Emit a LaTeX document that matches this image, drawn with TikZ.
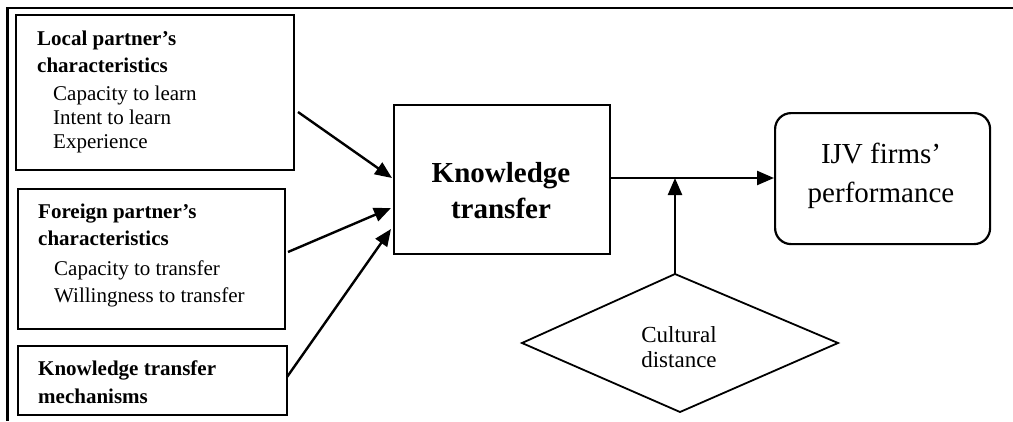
\documentclass[tikz,border=0pt]{standalone}
\usepackage{fontspec}
\setmainfont{Liberation Serif}
\usetikzlibrary{arrows.meta,shapes.geometric}
\begin{document}
\begin{tikzpicture}[x=1pt,y=-1pt,
  box/.style={draw,line width=2.2pt,inner sep=0pt,anchor=north west},
  txt/.style={anchor=base west,inner sep=0pt,font=\fontsize{21}{25}\selectfont},
  btxt/.style={txt,font=\fontsize{21}{25}\selectfont\bfseries},
  conn/.style={line width=2.4pt,-{Triangle[length=17pt,width=14pt]}},
  frame/.style={line width=2.2pt}
]
\useasboundingbox (0,0) rectangle (1013,421);
% outer frame (top and left)
\coordinate (ftr) at (1013,8);
\coordinate (ftl) at (7.5,8);
\coordinate (fbl) at (7.5,421);
\draw[frame] (ftr) -- (ftl) -- (fbl);

% left boxes
\node[box,minimum width=278pt,minimum height=155pt] (local) at (15,14) {};
\node[btxt] (l1) at (37,45) {Local partner’s};
\node[btxt] (l2) at (37,72) {characteristics};
\node[txt] (l3) at (53,100) {Capacity to learn};
\node[txt] (l4) at (53,124) {Intent to learn};
\node[txt] (l5) at (53,148) {Experience};

\node[box,minimum width=267pt,minimum height=140pt] (foreign) at (17,188) {};
\node[btxt] (f1) at (38,218) {Foreign partner’s};
\node[btxt] (f2) at (38,245) {characteristics};
\node[txt] (f3) at (54,275) {Capacity to transfer};
\node[txt] (f4) at (54,302) {Willingness to transfer};

\node[box,minimum width=269pt,minimum height=69pt] (mech) at (17,345) {};
\node[btxt] (m1) at (38,375) {Knowledge transfer};
\node[btxt] (m2) at (38,403) {mechanisms};

% central box
\node[box,minimum width=216pt,minimum height=149pt] (kt) at (393,104) {};
\node[anchor=base,inner sep=0pt,font=\fontsize{29}{35}\selectfont\bfseries] (kt1) at (501,182) {Knowledge};
\node[anchor=base,inner sep=0pt,font=\fontsize{29}{35}\selectfont\bfseries] (kt2) at (501,218) {transfer};

% performance box
\node[box,rounded corners=16pt,minimum width=215pt,minimum height=131pt] (perf) at (774,112) {};
\node[anchor=base,inner sep=0pt,font=\fontsize{29}{35}\selectfont] (p1) at (881,163) {IJV firms’};
\node[anchor=base,inner sep=0pt,font=\fontsize{29}{35}\selectfont] (p2) at (881,202) {performance};

% diamond
\coordinate (dt) at (675,274);
\coordinate (dl) at (522,343);
\coordinate (db) at (680,412);
\coordinate (dr) at (838,343);
\draw[line width=1.8pt] (dt) -- (dr) -- (db) -- (dl) -- cycle;
\node[anchor=base,inner sep=0pt,font=\fontsize{23}{27}\selectfont] (c1) at (679,342) {Cultural};
\node[anchor=base,inner sep=0pt,font=\fontsize{23}{27}\selectfont] (c2) at (679,367) {distance};

% connectors
\coordinate (a1s) at (298,112);
\coordinate (a1e) at (392,178);
\coordinate (a2s) at (288,252);
\coordinate (a2e) at (391,208);
\coordinate (a3s) at (287,377);
\coordinate (a3e) at (391,229);
\draw[conn] (a1s) -- (a1e);
\draw[conn] (a2s) -- (a2e);
\draw[conn] (a3s) -- (a3e);
\draw[conn] (kt.east |- 0,178) -- (perf.west |- 0,178);
\draw[conn] (dt) -- (675,178);
\end{tikzpicture}
\end{document}
